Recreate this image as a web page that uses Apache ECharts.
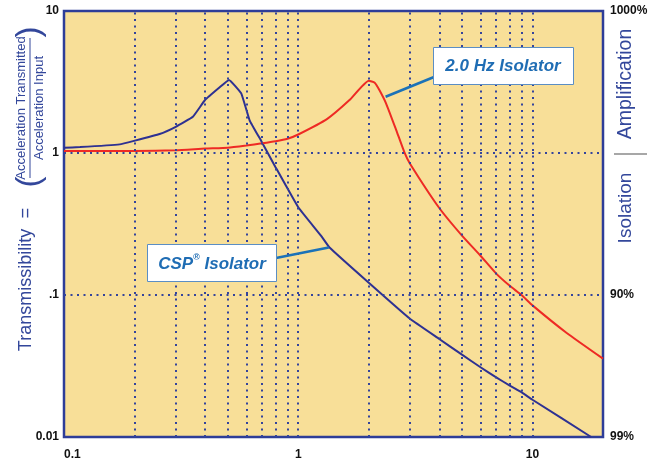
<!DOCTYPE html>
<html><head><meta charset="utf-8">
<script src="https://cdn.jsdelivr.net/npm/echarts@6/dist/echarts.min.js"></script>
<style>html,body{margin:0;padding:0;background:#fff}#c{width:658px;height:468px}</style>
</head><body><div id="c"></div>
<script>
// ---- data ----
const cspFreq = [0.1, 0.117, 0.173, 0.2, 0.256, 0.3, 0.355, 0.4, 0.462, 0.506, 0.571, 0.62, 0.696, 0.8, 1.0, 1.25, 1.36, 2, 3, 4, 5, 6, 7, 8, 9, 10, 17.8];
const cspVal  = [1.09, 1.10, 1.15, 1.22, 1.36, 1.53, 1.80, 2.36, 2.90, 3.27, 2.63, 1.70, 1.21, 0.795, 0.415, 0.262, 0.216, 0.122, 0.068, 0.049, 0.038, 0.031, 0.0263, 0.023, 0.0206, 0.0183, 0.01];
const hzFreq  = [0.1, 0.2, 0.3, 0.4, 0.5, 0.6, 0.7, 0.8, 0.9, 1.0, 1.33, 1.655, 2.0, 2.12, 2.22, 2.37, 2.62, 2.84, 3, 4, 5, 6, 7, 8, 9, 10, 14, 20];
const hzVal   = [1.033, 1.033, 1.045, 1.074, 1.09, 1.13, 1.17, 1.21, 1.26, 1.35, 1.74, 2.36, 3.23, 3.13, 2.78, 2.24, 1.45, 1.01, 0.841, 0.41, 0.262, 0.189, 0.1415, 0.116, 0.0995, 0.0845, 0.054, 0.0356];

const xTickValues = [0.1, 1, 10];
const xTickLabels = ['0.1', '1', '10'];
const yTickValues = [0.01, 0.1, 1, 10];
const yLeftLabels = ['0.01', '.1', '1', '10'];
const yRightLabels = ['99%', '90%', '', '1000%'];
const xGridValues = [0.2, 0.3, 0.4, 0.5, 0.6, 0.7, 0.8, 0.9, 1, 2, 3, 4, 5, 6, 7, 8, 9, 10];
const yGridValues = [0.1, 1];

const seriesNames = ['CSP Isolator', '2.0 Hz Isolator'];
const hzAnchor = [2.36, 2.49];
const cspAnchor = [1.35, 0.216];

// ---- helpers ----
function pick(vals, labels) {
  return function (v) {
    for (let i = 0; i < vals.length; i++) {
      if (Math.abs(Math.log10(v) - Math.log10(vals[i])) < 1e-6) return labels[i];
    }
    return '';
  };
}
function zip(a, b) { return a.map((v, i) => [v, b[i]]); }

const FONT = 'Liberation Sans';
const navy = '#33479b';
const gridColor = '#34449c';
const dotted = { color: gridColor, width: 2, type: [2, 4.5], cap: 'butt' };

const chart = echarts.init(document.getElementById('c'), null, { renderer: 'canvas' });

const labelStyle = { color: '#111', fontWeight: 'bold', fontSize: 12, fontFamily: FONT };

chart.setOption({
  animation: false,
  backgroundColor: '#ffffff',
  grid: { left: 64, right: 55, top: 11, bottom: 31, show: true, backgroundColor: '#f8df98', borderColor: '#2e3d98', borderWidth: 2.5, containLabel: false },
  xAxis: {
    type: 'log', logBase: 10, min: 0.1, max: 20,
    axisLine: { show: false }, axisTick: { show: false }, splitLine: { show: false },
    axisLabel: Object.assign({ margin: 12, formatter: pick(xTickValues, xTickLabels), alignMinLabel: 'left', showMaxLabel: true }, labelStyle)
  },
  yAxis: [
    {
      type: 'log', logBase: 10, min: 0.01, max: 10, position: 'left',
      axisLine: { show: false }, axisTick: { show: false }, splitLine: { show: false },
      axisLabel: Object.assign({ margin: 5, formatter: pick(yTickValues, yLeftLabels) }, labelStyle)
    },
    {
      type: 'log', logBase: 10, min: 0.01, max: 10, position: 'right',
      axisLine: { show: false }, axisTick: { show: false }, splitLine: { show: false },
      axisLabel: Object.assign({ margin: 7, formatter: pick(yTickValues, yRightLabels) }, labelStyle)
    }
  ],
  series: [
    {
      type: 'line', data: [[0.1, 1]], symbol: 'none', lineStyle: { opacity: 0 }, silent: true, z: 1,
      markLine: {
        silent: true, symbol: ['none', 'none'], label: { show: false }, animation: false,
        lineStyle: dotted, emphasis: { disabled: true },
        data: xGridValues.map(v => ({ xAxis: v })).concat(yGridValues.map(v => ({ yAxis: v })))
      }
    },
    {
      name: seriesNames[0], type: 'line', data: zip(cspFreq, cspVal), symbol: 'none', smooth: 0.1, z: 3,
      lineStyle: { color: '#2e3192', width: 2 }
    },
    {
      name: seriesNames[1], type: 'line', data: zip(hzFreq, hzVal), symbol: 'none', smooth: 0.15, z: 3,
      lineStyle: { color: '#ee2a24', width: 2 }
    }
  ]
});

const pHz = chart.convertToPixel({ xAxisIndex: 0, yAxisIndex: 0 }, hzAnchor);
const pCsp = chart.convertToPixel({ xAxisIndex: 0, yAxisIndex: 0 }, cspAnchor);

const R = Math.PI / 2;
function rtext(x, y, text, size, extra) {
  return { type: 'text', x: x, y: y, rotation: R, z: 100,
    style: Object.assign({ text: text, fill: navy, fontSize: size, fontFamily: FONT, align: 'center', verticalAlign: 'middle' }, extra || {}) };
}

chart.setOption({
  graphic: [
    rtext(26, 290, 'Transmissibility', 18),
    rtext(26, 213, '=', 18),
    rtext(30, 182, '(', 33, { fontWeight: 'lighter' }),
    rtext(30, 32, ')', 33, { fontWeight: 'lighter' }),
    rtext(21, 108, 'Acceleration Transmitted', 13),
    rtext(39, 108, 'Acceleration Input', 13),
    { type: 'line', z: 100, shape: { x1: 30, y1: 38, x2: 30, y2: 178 }, style: { stroke: navy, lineWidth: 1 } },
    rtext(626, 84, 'Amplification', 19.5),
    { type: 'line', z: 100, shape: { x1: 614, y1: 154, x2: 647, y2: 154 }, style: { stroke: '#8a8a8a', lineWidth: 1.5 } },
    rtext(626, 208, 'Isolation', 19),

    { type: 'line', z: 100, shape: { x1: 434, y1: 77, x2: pHz[0], y2: pHz[1] }, style: { stroke: '#1b72b8', lineWidth: 2.5 } },
    { type: 'rect', z: 101, shape: { x: 433.5, y: 47.5, width: 140, height: 37 }, style: { fill: '#ffffff', stroke: '#5b8ec4', lineWidth: 1 } },
    { type: 'text', z: 102, x: 503, y: 66, style: { text: '2.0 Hz Isolator', fill: '#1f6db4', fontSize: 17, fontWeight: 'bold', fontStyle: 'italic', fontFamily: FONT, align: 'center', verticalAlign: 'middle' } },

    { type: 'line', z: 100, shape: { x1: 276, y1: 258, x2: pCsp[0], y2: pCsp[1] }, style: { stroke: '#1b72b8', lineWidth: 2.5 } },
    { type: 'rect', z: 101, shape: { x: 147.5, y: 244.5, width: 129, height: 37 }, style: { fill: '#ffffff', stroke: '#5b8ec4', lineWidth: 1 } },
    { type: 'text', z: 102, x: 212, y: 264, style: {
        text: '{a|CSP}{s|®}{a| Isolator}', align: 'center', verticalAlign: 'middle',
        rich: {
          a: { fill: '#1f6db4', fontSize: 17, fontWeight: 'bold', fontStyle: 'italic', fontFamily: FONT, lineHeight: 22 },
          s: { fill: '#1f6db4', fontSize: 9, fontWeight: 'bold', fontStyle: 'italic', fontFamily: FONT, lineHeight: 10, verticalAlign: 'top' }
        } } }
  ]
});
</script></body></html>
